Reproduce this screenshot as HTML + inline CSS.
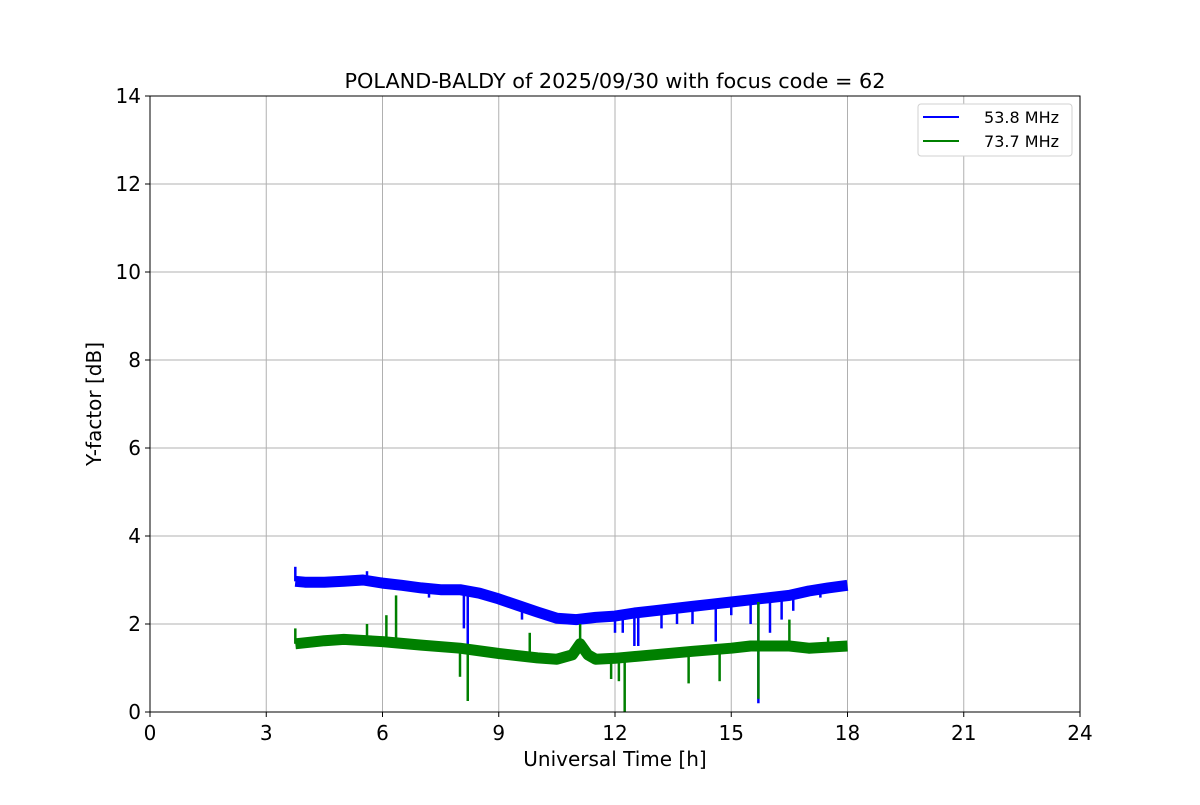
<!DOCTYPE html>
<html><head><meta charset="utf-8"><style>
body{margin:0;background:#fff;}
svg text{font-family:"DejaVu Sans","Liberation Sans",sans-serif;}
</style></head><body>
<svg id="chart" width="1200" height="800" xmlns="http://www.w3.org/2000/svg">
<rect width="1200" height="800" fill="#fff"/>
<g id="grid"></g><g id="series"></g><g id="axes"></g>
</svg>
<script>
const xTicks=[0,3,6,9,12,15,18,21,24];
const yTicks=[0,2,4,6,8,10,12,14];
const blueT=[3.75,4,4.5,5,5.5,6,6.5,7,7.5,8,8.5,9,9.5,10,10.5,11,11.5,12,12.5,13,13.5,14,14.5,15,15.5,16,16.5,17,17.5,18];
const blueV=[2.97,2.95,2.95,2.97,3.0,2.93,2.88,2.82,2.78,2.78,2.7,2.57,2.42,2.27,2.13,2.1,2.15,2.18,2.25,2.3,2.35,2.4,2.45,2.5,2.55,2.6,2.65,2.75,2.82,2.88];
const blueSpikeT=[3.75,5.6,7.2,8.1,8.2,9.6,10.8,12.0,12.2,12.5,12.6,13.2,13.6,14.0,14.6,15.0,15.5,15.7,16.0,16.3,16.6,17.3];
const blueSpikeV=[3.3,3.2,2.6,1.9,1.5,2.1,2.0,1.8,1.8,1.5,1.5,1.9,2.0,2.0,1.6,2.2,2.0,0.2,1.8,2.1,2.3,2.6];
const greenT=[3.75,4.5,5,6,7,8,9,10,10.5,10.9,11.1,11.3,11.5,12,13,14,15,15.5,16,16.5,17,18];
const greenV=[1.55,1.62,1.65,1.6,1.52,1.45,1.33,1.23,1.2,1.3,1.55,1.3,1.2,1.22,1.3,1.38,1.45,1.5,1.5,1.5,1.45,1.5];
const greenSpikeT=[3.75,5.6,6.1,6.35,8.0,8.2,9.8,11.1,11.9,12.1,12.25,13.9,14.7,15.7,15.7,16.5,17.5];
const greenSpikeV=[1.9,2.0,2.2,2.65,0.8,0.25,1.8,2.0,0.75,0.7,0.0,0.65,0.7,2.5,0.3,2.1,1.7];
const L=150,R=1080,T=96,B=712;
const xs=v=>L+(v/24)*(R-L), ys=v=>B-(v/14)*(B-T);
const NS="http://www.w3.org/2000/svg";
function mk(tag,attrs,parent,txt){const e=document.createElementNS(NS,tag);for(const k in attrs)e.setAttribute(k,attrs[k]);if(txt!==undefined)e.textContent=txt;parent.appendChild(e);return e;}
const grid=document.getElementById('grid'),series=document.getElementById('series'),axes=document.getElementById('axes'),svg=document.getElementById('chart');
xTicks.forEach(t=>{const g=mk('line',{x1:xs(t),x2:xs(t),y1:T,y2:B,stroke:'#b0b0b0','stroke-width':1},grid);


mk('line',{x1:xs(t),x2:xs(t),y1:B,y2:B+5,stroke:'#000','stroke-width':1},axes);
const l=mk('text',{x:xs(t),y:B+28,'font-size':20,'text-anchor':'middle'},axes,String(t));

});
yTicks.forEach(t=>{const g=mk('line',{x1:L,x2:R,y1:ys(t),y2:ys(t),stroke:'#b0b0b0','stroke-width':1},grid);


mk('line',{x1:L-5,x2:L,y1:ys(t),y2:ys(t),stroke:'#000','stroke-width':1},axes);
const l=mk('text',{x:L-9,y:ys(t)+7,'font-size':20,'text-anchor':'end'},axes,String(t));

});
function drawSeries(tArr,vArr,sT,sV,color,w,name){
 const g=mk('g',{},series);
 
 
 const d=tArr.map((t,i)=>(i?'L':'M')+xs(t).toFixed(1)+','+ys(vArr[i]).toFixed(1)).join('');
 mk('path',{d:d,fill:'none',stroke:color,'stroke-width':w,'stroke-linejoin':'round'},g);
 sT.forEach((t,i)=>{let j=0;while(j<tArr.length-2&&tArr[j+1]<t)j++;
  const f=(t-tArr[j])/(tArr[j+1]-tArr[j]);const base=vArr[j]+f*(vArr[j+1]-vArr[j]);
  const s=mk('line',{x1:xs(t),x2:xs(t),y1:ys(base),y2:ys(sV[i]),stroke:color,'stroke-width':2.5},g);
  
  });
}
drawSeries(blueT,blueV,blueSpikeT,blueSpikeV,'#0000ff',11,'series-53-8-mhz');
drawSeries(greenT,greenV,greenSpikeT,greenSpikeV,'#008000',11,'series-73-7-mhz');
const fr=mk('rect',{x:L,y:T,width:R-L,height:B-T,fill:'none',stroke:'#000','stroke-width':1},axes);


const ti=mk('text',{x:615,y:88,'font-size':20.8,'text-anchor':'middle'},axes,'POLAND-BALDY of 2025/09/30 with focus code = 62');


const xl=mk('text',{x:615,y:766,'font-size':20,'text-anchor':'middle'},axes,'Universal Time [h]');


const yl=mk('text',{x:101,y:404,'font-size':20,'text-anchor':'middle',transform:'rotate(-90 101 404)'},axes,'Y-factor [dB]');


const lg=mk('g',{},axes);


mk('rect',{x:918,y:104,width:154,height:52,rx:3,fill:'#fff',stroke:'#d0d0d0'},lg);
[['#0000ff','53.8 MHz',117],['#008000','73.7 MHz',141]].forEach(([c,t,y])=>{
 const e=mk('g',{},lg);
 
 
 mk('line',{x1:923,x2:959,y1:y,y2:y,stroke:c,'stroke-width':2},e);
 mk('text',{x:1059,y:y+6,'font-size':16,'text-anchor':'end'},e,t);
});
</script>
</body></html>
